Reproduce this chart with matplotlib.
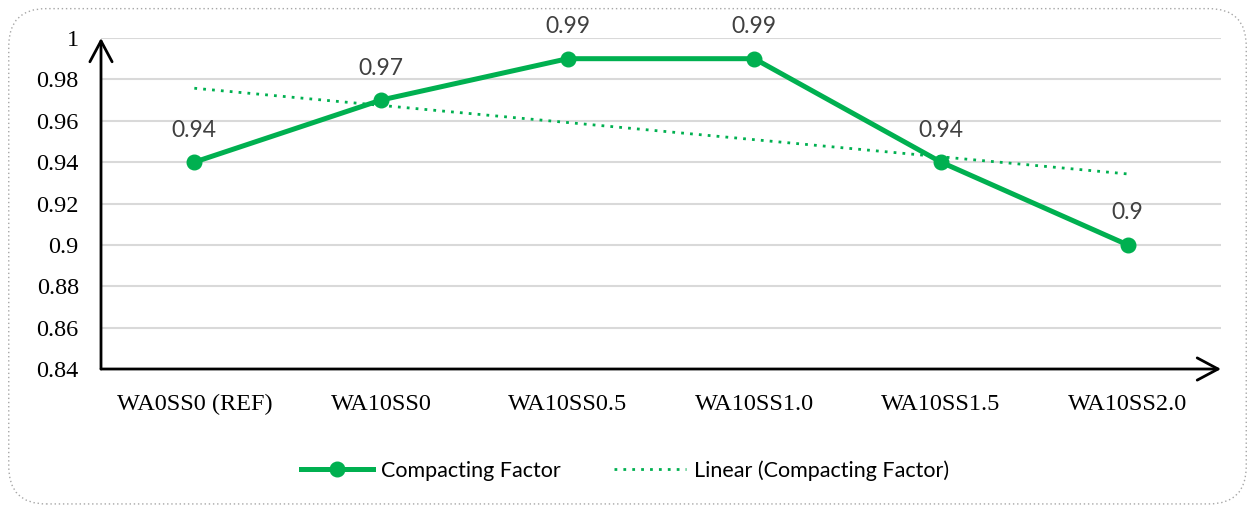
import numpy as np
import matplotlib.pyplot as plt
from matplotlib.patches import FancyBboxPatch

categories = ["WA0SS0 (REF)", "WA10SS0", "WA10SS0.5", "WA10SS1.0", "WA10SS1.5", "WA10SS2.0"]
compacting = [0.94, 0.97, 0.99, 0.99, 0.94, 0.90]
value_labels = ["0.94", "0.97", "0.99", "0.99", "0.94", "0.9"]
y_ticks = [0.84, 0.86, 0.88, 0.90, 0.92, 0.94, 0.96, 0.98, 1.0]
y_tick_labels = ["0.84", "0.86", "0.88", "0.9", "0.92", "0.94", "0.96", "0.98", "1"]

GREEN = "#00B050"
SANS = ["Lato", "DejaVu Sans"]

plt.rcParams["font.family"] = ["Liberation Serif", "DejaVu Serif"]

fig = plt.figure(figsize=(12.5, 5.08), dpi=100)
ax = fig.add_axes([0.0808, 0.2736, 0.896, 0.6516])

x = np.arange(len(categories))

# gridlines
for yv in y_ticks[1:]:
    ax.axhline(yv, color="#D9D9D9", lw=1.5, zorder=0)

# linear trendline
coef = np.polyfit(x, compacting, 1)
trend = np.polyval(coef, x)
ax.plot(x, trend, color=GREEN, lw=2, linestyle=(0, (1, 2.2)), zorder=2,
        label="Linear (Compacting Factor)")

ax.plot(x, compacting, color=GREEN, lw=3.6, marker="o", markersize=10.5,
        zorder=3, label="Compacting Factor")

for xi, yi, lab in zip(x, compacting, value_labels):
    ax.annotate(lab, (xi, yi), xytext=(0, 23), textcoords="offset points",
                ha="center", va="center", fontsize=16.5, color="#404040",
                family=SANS)

ax.set_xlim(-0.5, len(categories) - 0.5)
ax.set_ylim(0.84, 1.0)
ax.set_yticks(y_ticks)
ax.set_yticklabels(y_tick_labels)
ax.set_xticks(x)
ax.set_xticklabels(categories)
ax.tick_params(length=0, labelsize=17.5)
ax.tick_params(axis="y", pad=16)
ax.tick_params(axis="x", pad=18)
for s in ax.spines.values():
    s.set_visible(False)

# arrow axes
arrow_kw = dict(arrowstyle="->,head_length=0.75,head_width=0.4", lw=2, color="black",
                shrinkA=0, shrinkB=0, mutation_scale=20)
ax.annotate("", xy=(0, 1.0), xytext=(0, 0), xycoords="axes fraction",
            arrowprops=arrow_kw, zorder=5, annotation_clip=False)
ax.annotate("", xy=(1.0, 0), xytext=(0, 0), xycoords="axes fraction",
            arrowprops=arrow_kw, zorder=5, annotation_clip=False)

handles, labels = ax.get_legend_handles_labels()
leg = fig.legend(handles[::-1], labels[::-1], loc="center", bbox_to_anchor=(0.5, 0.074),
                 ncol=2, frameon=False, prop={"family": SANS, "size": 15.5},
                 handlelength=3.35, handletextpad=0.35, columnspacing=2.5)

# dotted rounded border
border = FancyBboxPatch((0.007, 0.008), 0.99, 0.975, boxstyle="round,pad=0,rounding_size=0.03",
                        transform=fig.transFigure, fill=False, edgecolor="#A6A6A6",
                        lw=1, linestyle=(0, (1, 2)), mutation_aspect=2.46)
fig.patches.append(border)

fig.savefig("out.png", dpi=100)
